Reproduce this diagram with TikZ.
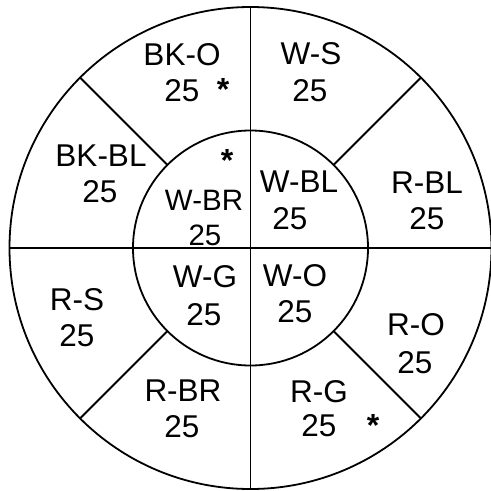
\documentclass[tikz,border=0pt]{standalone}
\usepackage{fontspec}
\setmainfont{Liberation Sans}
\begin{document}
\begin{tikzpicture}[x=1pt,y=-1pt,line width=1.8pt,
  ring/.style={circle,draw,inner sep=0pt,outer sep=0pt},
  lab/.style={anchor=base,inner sep=0pt,outer sep=0pt,font=\fontsize{31.5}{36}\selectfont},
  labs/.style={anchor=base,inner sep=0pt,outer sep=0pt,font=\fontsize{29.5}{34}\selectfont},
  star/.style={anchor=base,inner sep=0pt,outer sep=0pt,font=\fontsize{32}{36}\selectfont\bfseries}]
\useasboundingbox (0,0) rectangle (491,491);
\coordinate (c) at (250.5,248);
\node[ring,minimum size=482pt] (outer) at (c) {};
\node[ring,minimum size=235pt] (inner) at (c) {};
\draw (outer.north) -- (outer.south);
\draw (outer.west) -- (outer.east);
\foreach \a in {45,135,225,315} \draw (inner.\a) -- (outer.\a);
% outer ring labels
\node[lab] (bko) at (182,65.3) {BK-O};
\node[lab] (bkon) at (182,101.3) {25};
\node[star] (bkos) at (223,100.4) {*};
\node[lab] (ws) at (311,64.3) {W-S};
\node[lab] (wsn) at (310,101.3) {25};
\node[lab] (bkbl) at (101,166.3) {BK-BL};
\node[lab] (bkbln) at (100,202.3) {25};
\node[lab] (rbl) at (427,193.3) {R-BL};
\node[lab] (rbln) at (427,229.3) {25};
\node[lab] (rs) at (77,310.3) {R-S};
\node[lab] (rsn) at (77,346.3) {25};
\node[lab] (rbr) at (183,401.3) {R-BR};
\node[lab] (rbrn) at (182,437.3) {25};
\node[lab] (ro) at (416,335.3) {R-O};
\node[lab] (ron) at (415,373.3) {25};
\node[lab] (rg) at (319,402.3) {R-G};
\node[lab] (rgn) at (319,436.3) {25};
\node[star] (rgs) at (373,436.4) {*};
% inner circle labels
\node[star] (wbrs) at (227,171.4) {*};
\node[labs] (wbr) at (204,210.5) {W-BR};
\node[labs] (wbrn) at (205,245.5) {25};
\node[lab] (wbl) at (299,192.3) {W-BL};
\node[lab] (wbln) at (290,229.3) {25};
\node[lab] (wg) at (205,287.3) {W-G};
\node[lab] (wgn) at (204,325.3) {25};
\node[lab] (wo) at (295,286.3) {W-O};
\node[lab] (won) at (295,322.3) {25};
\end{tikzpicture}
\end{document}
